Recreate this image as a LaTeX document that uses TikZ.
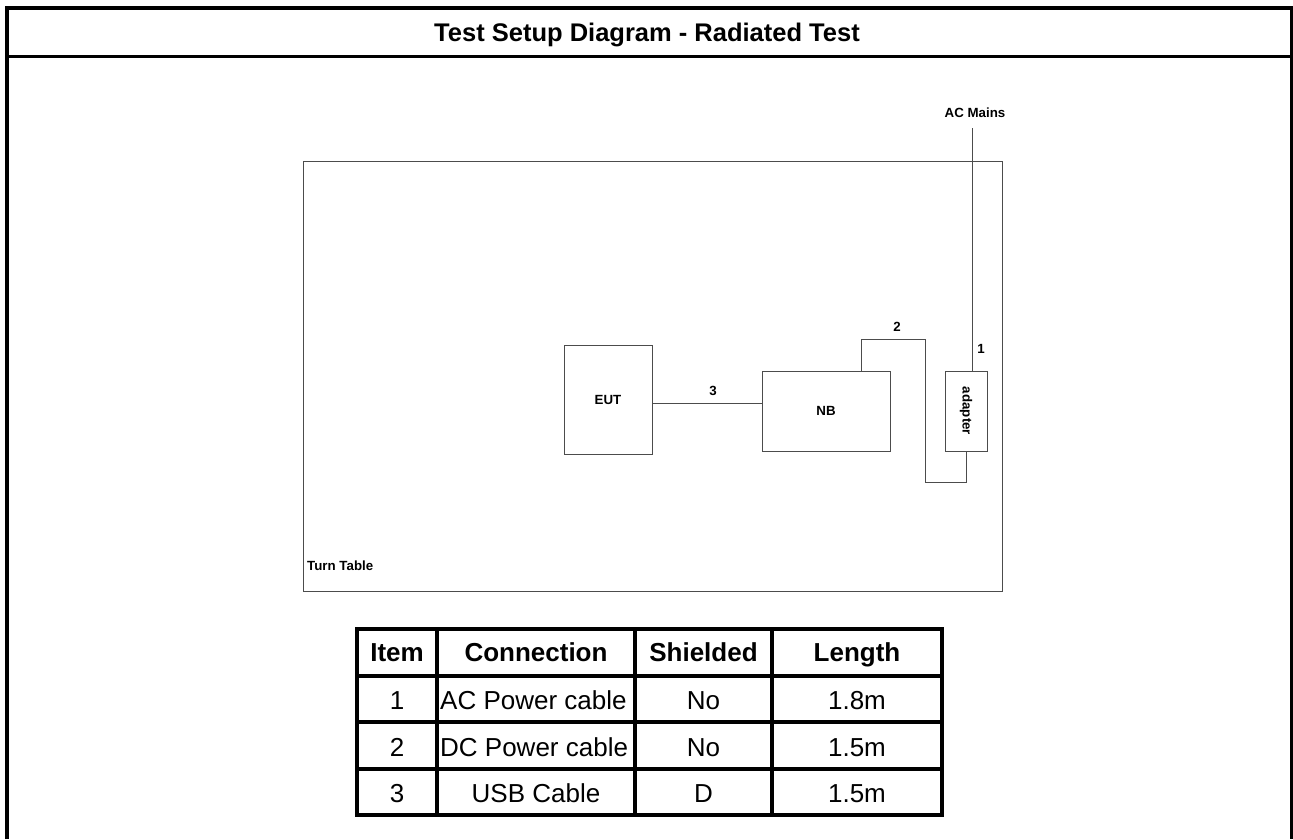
\documentclass[tikz,border=0pt]{standalone}
\usepackage{fontspec}
\setmainfont{Liberation Sans}
\begin{document}
\begin{tikzpicture}[x=1pt,y=-1pt,
  thin line/.style={draw=black!70,line width=1pt},
  devbox/.style={thin line,inner sep=0pt,font=\fontsize{13.3}{15}\selectfont\bfseries},
  small label/.style={inner sep=0pt,font=\fontsize{13.3}{15}\selectfont\bfseries},
  head cell/.style={inner sep=0pt,anchor=base,font=\fontsize{26}{30}\selectfont\bfseries},
  body cell/.style={inner sep=0pt,anchor=base,font=\fontsize{26}{30}\selectfont},
  tab line/.style={line width=3.2pt,black}]
\useasboundingbox (0,0) rectangle (1293,839);
% outer frame
\draw[line width=4pt,black] (7,839) -- (7,8) -- (1291.5,8) -- (1291.5,839);
\draw[line width=3pt,black] (7,56.5) -- (1291.5,56.5);
\node[inner sep=0pt,anchor=base,font=\fontsize{25.5}{30}\selectfont\bfseries] (title) at (647,41) {Test Setup Diagram - Radiated Test};
% turn table
\node[thin line,inner sep=0pt,minimum width=699,minimum height=430] (tt) at (652.5,376) {};
\node[small label,anchor=west] (ttl) at (307,566) {Turn Table};
% devices
\node[devbox,minimum width=88,minimum height=109] (eut) at (608,399.5) {EUT};
\node[devbox,minimum width=128,minimum height=80] (nb) at (826,411) {NB};
\node[devbox,minimum width=42,minimum height=80] (ad) at (966,411) {};
\node[small label,rotate=-90] (adl) at (966,411) {adapter};
% cable 3
\draw[thin line] (eut.east |- 0,403) -- (nb.west |- 0,403);
\node[small label] (l3) at (713,391) {3};
% cable 2
\coordinate (nbtop) at (861,371);
\draw[thin line] (nbtop) |- (925,339) |- (966,482) -- (ad.south);
\node[small label] (l2) at (897,327) {2};
% cable 1
\coordinate (acm) at (972,128);
\draw[thin line] (acm) -- (acm |- ad.north);
\node[small label] (acl) at (975,113) {AC Mains};
\node[small label] (l1) at (981,349) {1};
% table
\draw[tab line] (357,629) rectangle (942,815);
\foreach \yy in {676,722,769} \draw[tab line] (357,\yy) -- (942,\yy);
\foreach \xx in {437,635,772} \draw[tab line] (\xx,629) -- (\xx,815);
\node[head cell] (h1) at (397,661) {Item};
\node[head cell] (h2) at (536,661) {Connection};
\node[head cell] (h3) at (703.5,661) {Shielded};
\node[head cell] (h4) at (857,661) {Length};
\node[body cell] (r11) at (397,709) {1};
\node[body cell,anchor=base west] (r12) at (440,709) {AC Power cable};
\node[body cell] (r13) at (703.5,709) {No};
\node[body cell] (r14) at (857,709) {1.8m};
\node[body cell] (r21) at (397,756) {2};
\node[body cell,anchor=base west] (r22) at (440,756) {DC Power cable};
\node[body cell] (r23) at (703.5,756) {No};
\node[body cell] (r24) at (857,756) {1.5m};
\node[body cell] (r31) at (397,802.5) {3};
\node[body cell] (r32) at (536,802.5) {USB Cable};
\node[body cell] (r33) at (703.5,802.5) {D};
\node[body cell] (r34) at (857,802.5) {1.5m};
\end{tikzpicture}
\end{document}
